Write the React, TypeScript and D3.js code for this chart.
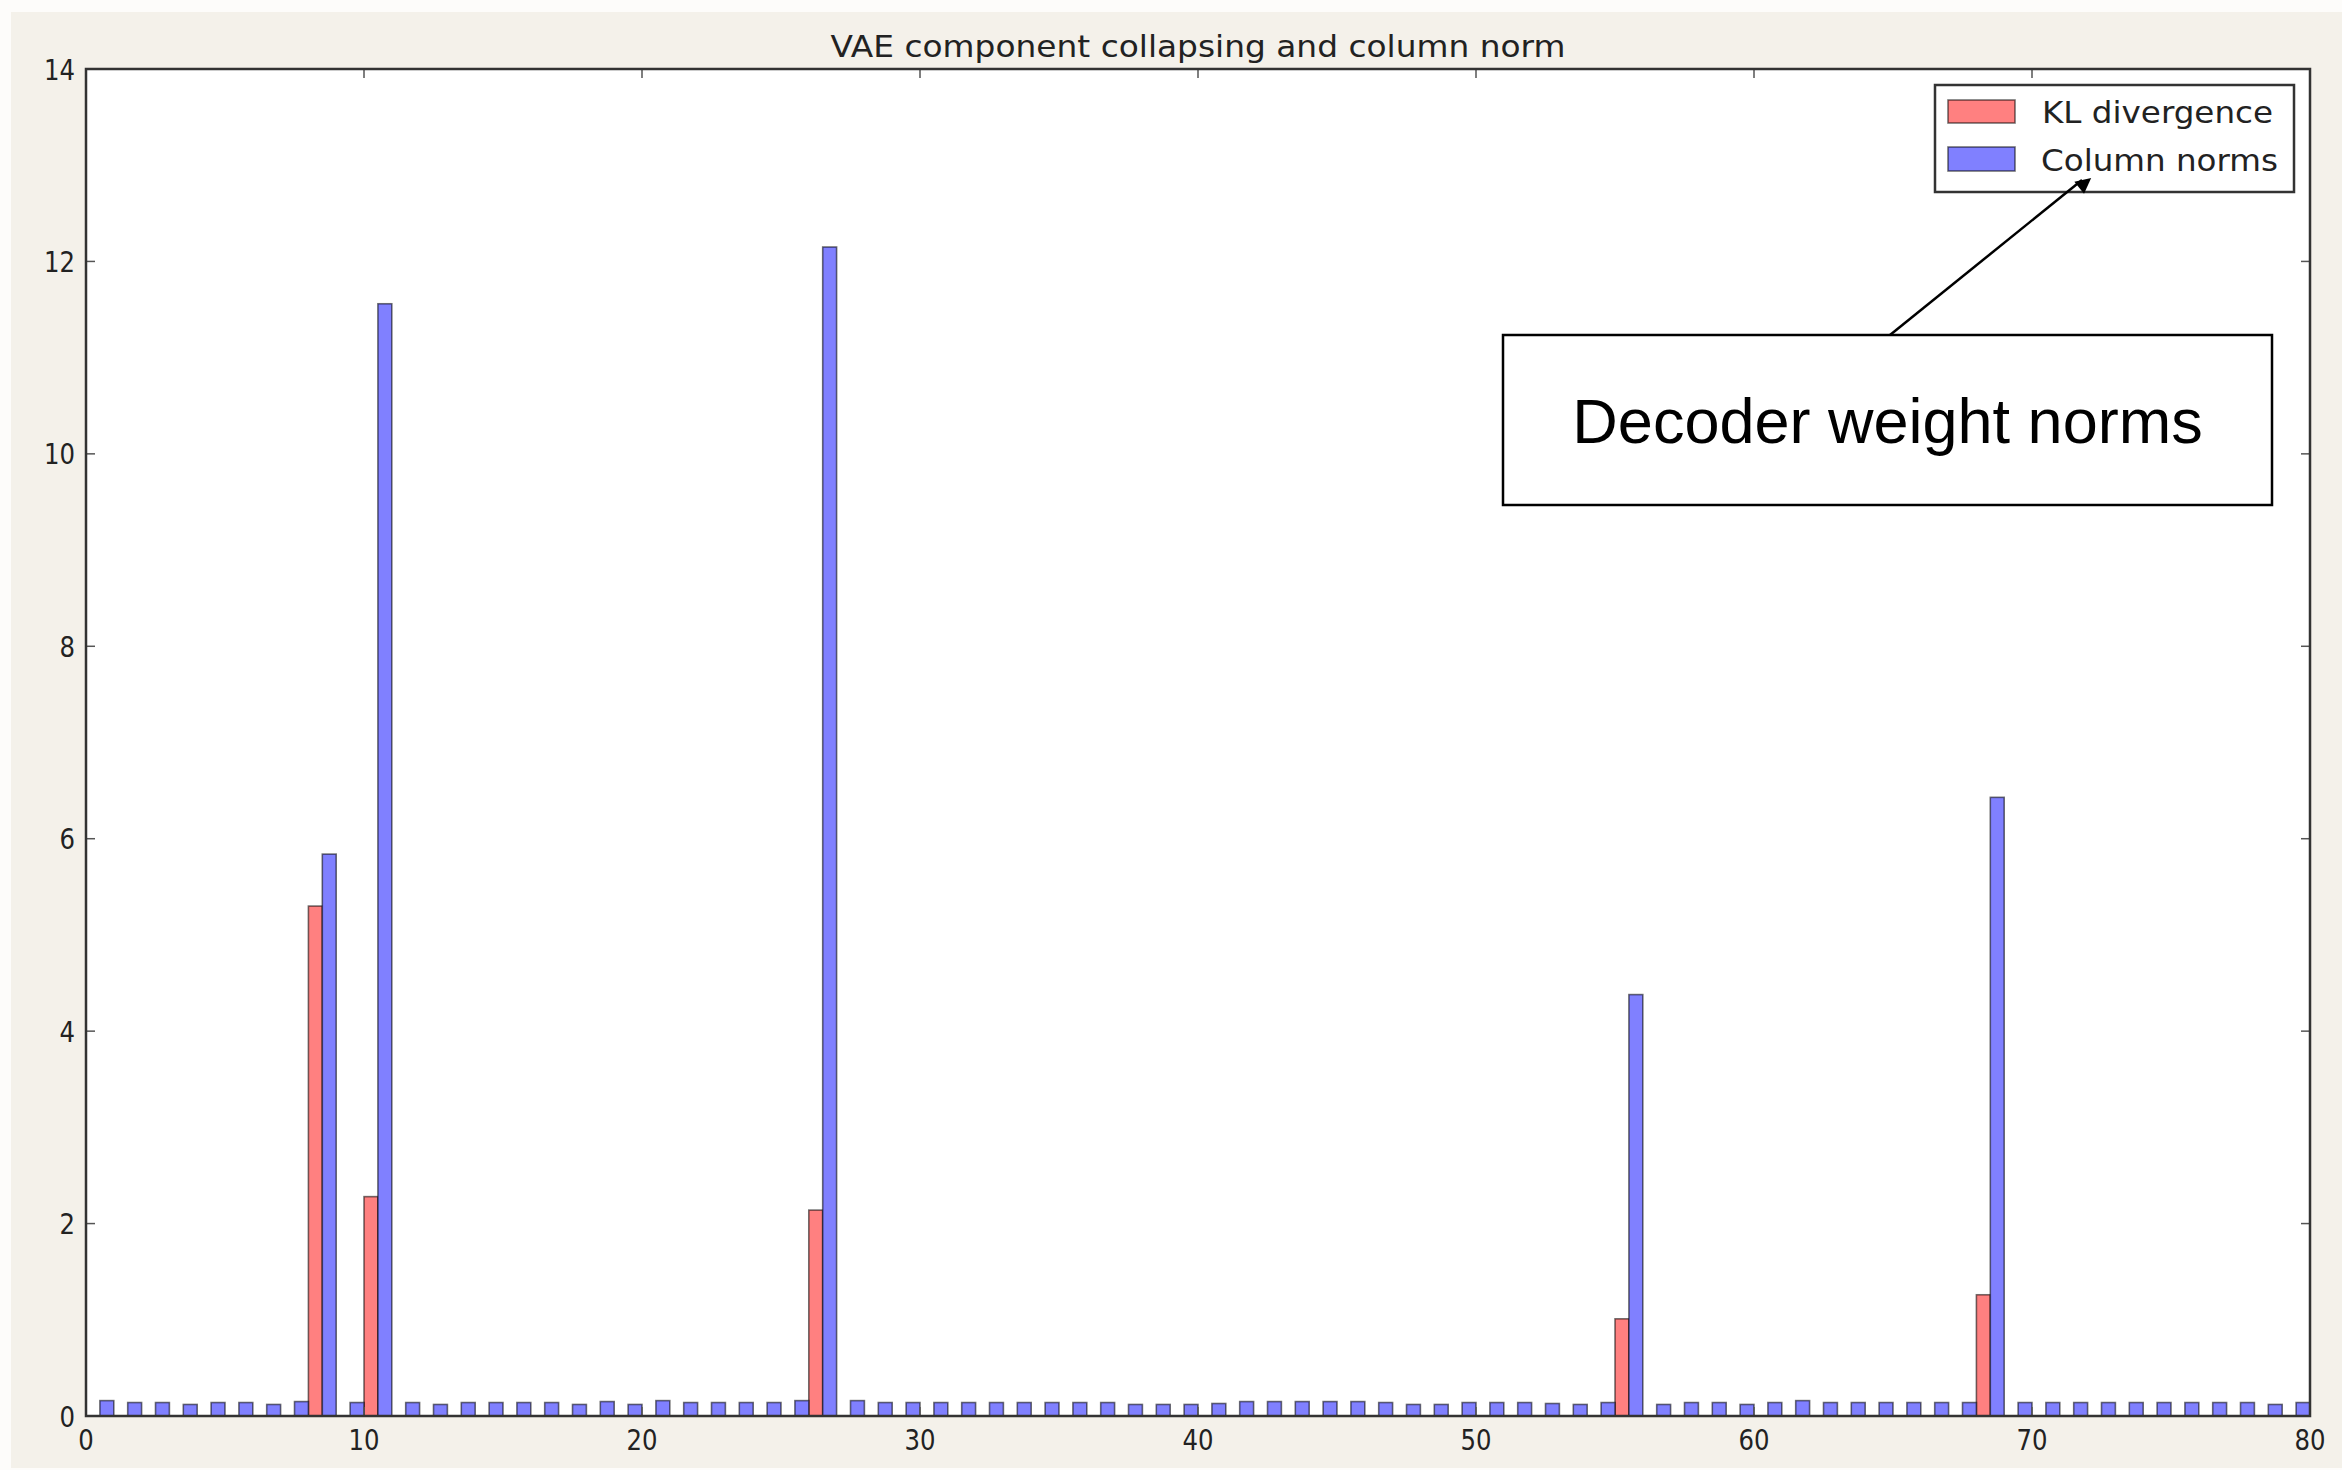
import React from 'react';
import * as d3 from 'd3';

// VAE component collapsing: KL divergence vs. decoder column norms, per latent unit
const units = d3.range(80);

const klDivergence = [
  0, 0, 0, 0, 0, 0, 0, 0, 5.30, 0,
  2.28, 0, 0, 0, 0, 0, 0, 0, 0, 0,
  0, 0, 0, 0, 0, 0, 2.14, 0, 0, 0,
  0, 0, 0, 0, 0, 0, 0, 0, 0, 0,
  0, 0, 0, 0, 0, 0, 0, 0, 0, 0,
  0, 0, 0, 0, 0, 1.01, 0, 0, 0, 0,
  0, 0, 0, 0, 0, 0, 0, 0, 1.26, 0,
  0, 0, 0, 0, 0, 0, 0, 0, 0, 0,
];

const columnNorms = [
  0.16, 0.14, 0.14, 0.12, 0.14, 0.14, 0.12, 0.15, 5.84, 0.14,
  11.56, 0.14, 0.12, 0.14, 0.14, 0.14, 0.14, 0.12, 0.15, 0.12,
  0.16, 0.14, 0.14, 0.14, 0.14, 0.16, 12.15, 0.16, 0.14, 0.14,
  0.14, 0.14, 0.14, 0.14, 0.14, 0.14, 0.14, 0.12, 0.12, 0.12,
  0.13, 0.15, 0.15, 0.15, 0.15, 0.15, 0.14, 0.12, 0.12, 0.14,
  0.14, 0.14, 0.13, 0.12, 0.14, 4.38, 0.12, 0.14, 0.14, 0.12,
  0.14, 0.16, 0.14, 0.14, 0.14, 0.14, 0.14, 0.14, 6.43, 0.14,
  0.14, 0.14, 0.14, 0.14, 0.14, 0.14, 0.14, 0.14, 0.12, 0.14,
];

const xTicks = [0, 10, 20, 30, 40, 50, 60, 70, 80];
const yTicks = [0, 2, 4, 6, 8, 10, 12, 14];

const seriesNames = ['KL divergence', 'Column norms'];
const titleText = 'VAE component collapsing and column norm';
const noteText = 'Decoder weight norms';

const W = 2342;
const H = 1470;
const plot = {left: 86, right: 2310, top: 69, bottom: 1416};
const barW = 0.5;
const RED = '#ff8080';
const BLUE = '#8080ff';
const EDGE = 'rgba(0,0,0,0.55)';
const TICK_FONT = '"DejaVu Sans", sans-serif';

export default function App() {
  const x = d3.scaleLinear().domain([0, 80]).range([plot.left, plot.right]);
  const y = d3.scaleLinear().domain([0, 14]).range([plot.bottom, plot.top]);

  const tickLen = 9;
  const digitW = 15.5;

  // legend + annotation box placement
  const leg = {x: 1935, y: 85, w: 359, h: 107};
  const note = {x: 1503, y: 335, w: 769, h: 170};
  const arrowFrom = [1890, note.y];
  const arrowTo = [2082, 180];

  return (
    <div style={{position: 'fixed', left: 0, top: 0}}>
      <svg width={W} height={H} style={{display: 'block'}}>
        <defs>
          <marker id="head" viewBox="0 0 10 10" refX="10" refY="5" markerWidth="9" markerHeight="7"
            markerUnits="userSpaceOnUse" orient="auto" style={{overflow: 'visible'}}>
            <path d="M0,0 L10,5 L0,10 z" fill="#000" transform="scale(2.2)" />
          </marker>
        </defs>
        <rect x={0} y={0} width={W} height={H} fill="#fdfcfa" />
        <rect x={11} y={12} width={W - 11} height={H - 14} fill="#f4f1ea" />
        <rect x={plot.left} y={plot.top} width={plot.right - plot.left} height={plot.bottom - plot.top} fill="#fff" />

        {/* bars */}
        <g>
          {units.map(i => (
            <rect key={'kl' + i} x={x(i)} width={x(i + barW) - x(i)}
              y={y(klDivergence[i])} height={y(0) - y(klDivergence[i])}
              fill={RED} stroke={EDGE} strokeWidth={1.6} />
          ))}
          {units.map(i => (
            <rect key={'cn' + i} x={x(i + barW)} width={x(i + 2 * barW) - x(i + barW)}
              y={y(columnNorms[i])} height={y(0) - y(columnNorms[i])}
              fill={BLUE} stroke={EDGE} strokeWidth={1.6} />
          ))}
        </g>

        {/* ticks, inward on all sides */}
        <g stroke="#555" strokeWidth={1.5}>
          {xTicks.map(t => (
            <g key={'xt' + t}>
              <line x1={x(t)} x2={x(t)} y1={plot.bottom} y2={plot.bottom - tickLen} />
              <line x1={x(t)} x2={x(t)} y1={plot.top} y2={plot.top + tickLen} />
            </g>
          ))}
          {yTicks.map(t => (
            <g key={'yt' + t}>
              <line x1={plot.left} x2={plot.left + tickLen} y1={y(t)} y2={y(t)} />
              <line x1={plot.right} x2={plot.right - tickLen} y1={y(t)} y2={y(t)} />
            </g>
          ))}
        </g>
        <rect x={plot.left} y={plot.top} width={plot.right - plot.left} height={plot.bottom - plot.top}
          fill="none" stroke="#333" strokeWidth={2.5} />

        {/* tick labels */}
        <g fontFamily={TICK_FONT} fontSize={29} fill="#222">
          {xTicks.map(t => (
            <text key={'xl' + t} x={x(t)} y={1450} textAnchor="middle"
              textLength={String(t).length * digitW} lengthAdjust="spacingAndGlyphs">{t}</text>
          ))}
          {yTicks.map(t => (
            <text key={'yl' + t} x={75} y={y(t) + 10.5} textAnchor="end"
              textLength={String(t).length * digitW} lengthAdjust="spacingAndGlyphs">{t}</text>
          ))}
        </g>

        {/* title */}
        <text x={(plot.left + plot.right) / 2} y={57} textAnchor="middle" fontFamily={TICK_FONT}
          fontSize={30} fill="#222" textLength={735} lengthAdjust="spacingAndGlyphs">{titleText}</text>

        {/* legend */}
        <rect x={leg.x} y={leg.y} width={leg.w} height={leg.h} fill="#fff" stroke="#333" strokeWidth={2.5} />
        <rect x={1948} y={100} width={67} height={23} fill={RED} stroke={EDGE} strokeWidth={1.6} />
        <rect x={1948} y={147} width={67} height={24} fill={BLUE} stroke={EDGE} strokeWidth={1.6} />
        <g fontFamily={TICK_FONT} fontSize={30} fill="#222">
          <text x={2042} y={123} textLength={231} lengthAdjust="spacingAndGlyphs">{seriesNames[0]}</text>
          <text x={2041} y={171} textLength={237} lengthAdjust="spacingAndGlyphs">{seriesNames[1]}</text>
        </g>

        {/* annotation */}
        <line x1={arrowFrom[0]} y1={arrowFrom[1]} x2={arrowTo[0]} y2={arrowTo[1]}
          stroke="#000" strokeWidth={2.5} markerEnd="url(#head)" />
        <rect x={note.x} y={note.y} width={note.w} height={note.h} fill="#fff" stroke="#000" strokeWidth={2.5} />
        <text x={note.x + note.w / 2} y={443} textAnchor="middle"
          fontFamily='"Liberation Sans", Arial, sans-serif' fontSize={63} fill="#000">{noteText}</text>
      </svg>
    </div>
  );
}
